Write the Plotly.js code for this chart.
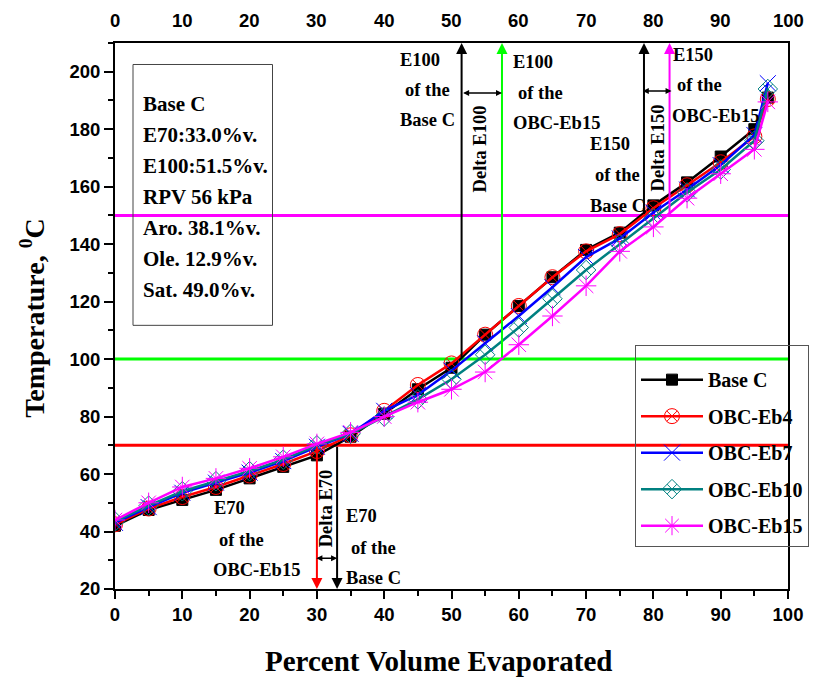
<!DOCTYPE html>
<html>
<head>
<meta charset="utf-8">
<script src="https://cdn.plot.ly/plotly-3.0.1.min.js"></script>
<style>html,body{margin:0;padding:0;background:#fff;}#chart{width:822px;height:677px;}</style>
</head>
<body>
<div id="chart"></div>
<script>
// ---- data ----
const volume = [0,5,10,15,20,25,30,35,40,45,50,55,60,65,70,75,80,85,90,95,97];
const baseC  = [42,47.5,51,54.5,58.5,62.5,66.5,73,81,89.5,97,108.5,118.5,128.5,138,144,153.5,161.5,170.5,180,191];
const eb4    = [42.5,48,52,55.5,59.5,63.5,68,73.5,82,91,98.5,108.5,118.5,128.5,137.5,143.5,152.5,160.5,168.5,177.5,190.5];
const eb7    = [43,48.5,53.5,57,60.5,64.5,69.5,74,82,87.5,96,105.5,115,125,135.5,142,151,159,167.5,178,196];
const eb10   = [43.5,49,54,57.5,61,65,70,74,80,86,93,101.5,111,121,131,140,149,158,166,176,194];
const eb15   = [44,50,55.5,58.5,62,66,70.5,74.5,80,85,89.5,95.5,105,115,125.5,137.5,146,156,164.5,173,189.5];
const seriesNames = ["Base C","OBC-Eb4","OBC-Eb7","OBC-Eb10","OBC-Eb15"];
const seriesData = [baseC, eb4, eb7, eb10, eb15];
const seriesColors = ["#000000","#ff0000","#0000ff","#008080","#ff00ff"];
const seriesSymbols = ["square","circle-x-open","x-thin-open","diamond-x-open","asterisk-open"];
const seriesSizes = [11,15,16,15,17];

const xTicks = [0,10,20,30,40,50,60,70,80,90,100];
const yTicks = [20,40,60,80,100,120,140,160,180,200];

// reference temperatures and evaporated points
const refTemps = [70,100,150];
const refColors = ["#ff0000","#00ff00","#ff00ff"];
const eBase = [33.0,51.5,78.6];     // E70, E100, E150 of Base C
const eEb15 = [30.0,57.5,82.4];     // E70, E100, E150 of OBC-Eb15

const infoLines = ["Base C","E70:33.0%v.","E100:51.5%v.","RPV 56 kPa","Aro. 38.1%v.","Ole. 12.9%v.","Sat. 49.0%v."];

// ---- layout helpers (pixel -> data) ----
const L=115, R=788, T=43, B=589.3;
const X0=0, X1=100, Y0=20, Y1=210;
const dx = px => X0 + (px-L)/(R-L)*(X1-X0);
const dy = py => Y0 + (B-py)/(B-T)*(Y1-Y0);

const serif = "Liberation Serif, Times New Roman, serif";
const sans = "Liberation Sans, Arial, sans-serif";

const traces = seriesNames.map((n,i)=>({
  x: volume, y: seriesData[i], name: n, type:'scatter', mode:'lines+markers',
  legendgroup: 'g'+i,
  line:{color:seriesColors[i], width:2.5},
  marker:{symbol:seriesSymbols[i], size:seriesSizes[i], color:seriesColors[i], line:{color:seriesColors[i], width:1}}
}));

const shapes = [];
refTemps.forEach((t,i)=>{
  shapes.push({type:'line', xref:'x', yref:'y', x0:0, x1:dx(790), y0:t, y1:t, line:{color:refColors[i], width:3}, layer:'below'});
});
// info box
shapes.push({type:'rect', xref:'x', yref:'y', x0:dx(133), x1:dx(272.5), y0:dy(64.5), y1:dy(325.5), line:{color:'#444', width:1}, fillcolor:'rgba(0,0,0,0)'});

const annotations = [];
const txt = (text, px, py, opts={}) => annotations.push(Object.assign({
  text, x:dx(px), y:dy(py), xref:'x', yref:'y', showarrow:false, xanchor:'left', yanchor:'middle',
  font:{family:serif, size:18.5, color:'#000', weight:'bold'}
}, opts));

infoLines.forEach((s,i)=> txt(s, 141, 104 + i*31.1, {font:{family:serif, size:21, color:'#000', weight:'bold'}}));

// top tick labels
xTicks.forEach(v => annotations.push({text:String(v), x:v, y:1, xref:'x', yref:'paper', showarrow:false,
  xanchor:'center', yanchor:'middle', yshift:23, font:{family:sans, size:18.5, color:'#000', weight:'bold'}}));

// vertical arrows
const arrow = (x, y, ax, ay, color, side) => annotations.push({
  x, y, ax, ay, xref:'x', yref:'y', axref:'x', ayref:'y', text:'', showarrow:true,
  arrowhead:2, arrowsize:1.1, arrowwidth:2, arrowcolor:color, standoff:0, startstandoff:0, arrowside: side||'end'
});
// E70 down arrows
arrow(eEb15[0], 20, eEb15[0], refTemps[0], '#ff0000');
arrow(eBase[0], 20, eBase[0], refTemps[0], '#000000');
// E100 up arrows
arrow(eBase[1], 210, eBase[1], refTemps[1], '#000000');
arrow(eEb15[1], 210, eEb15[1], refTemps[1], '#00ff00');
// E150 up arrows
arrow(eBase[2], 210, eBase[2], refTemps[2], '#000000');
arrow(eEb15[2], 210, eEb15[2], refTemps[2], '#ff00ff');

// delta double arrows
const dbl = (xa, xb, yv) => annotations.push({
  x: xb, y: yv, ax: xa, ay: yv, xref:'x', yref:'y', axref:'x', ayref:'y', text:'', showarrow:true,
  arrowhead:2, startarrowhead:2, arrowsize:0.8, startarrowsize:0.8, arrowwidth:1.5, arrowcolor:'#000', arrowside:'end+start', standoff:0, startstandoff:0
});
dbl(eEb15[0]-0.3, eBase[0], dy(558.5));
dbl(eBase[1], eEb15[1], dy(93));
dbl(eBase[2]-0.4, eEb15[2]+0.3, dy(91));

// rotated delta labels
const rot = (s, px, py) => annotations.push({
  text:s, x:dx(px), y:dy(py), xref:'x', yref:'y', showarrow:false, textangle:-90,
  xanchor:'center', yanchor:'middle', font:{family:serif, size:18.5, color:'#000', weight:'bold'}
});
rot("Delta E70", 325.5, 509);
rot("Delta E100", 479.5, 149);
rot("Delta E150", 657.5, 148);

// text blocks
txt("E70", 212, 508); txt("of the", 217, 540); txt("OBC-Eb15", 211, 570);
txt("E70", 344, 516); txt("of the", 349, 548); txt("Base C", 344, 578);
txt("E100", 398, 60); txt("of the", 403, 90); txt("Base C", 398, 120.5);
txt("E100", 511, 62); txt("of the", 515.5, 93); txt("OBC-Eb15", 511, 123);
txt("E150", 588, 144); txt("of the", 592.5, 175); txt("Base C", 588, 206);
txt("E150", 670.5, 55); txt("of the", 675, 85); txt("OBC-Eb15", 670, 116);

// axis titles
annotations.push({text:"Percent Volume Evaporated", xref:'paper', yref:'paper', x:(438-L)/(R-L), y:(B-661)/(B-T),
  showarrow:false, xanchor:'center', yanchor:'middle', font:{family:serif, size:29, color:'#000', weight:'bold'}});
annotations.push({text:"Temperature, <sup>0</sup>C", xref:'paper', yref:'paper', x:(33-L)/(R-L), y:(B-318)/(B-T),
  showarrow:false, textangle:-90, xanchor:'center', yanchor:'middle', font:{family:serif, size:28, color:'#000', weight:'bold'}});

const layout = {
  width:822, height:677,
  margin:{l:L, r:822-R, t:T, b:677-B},
  paper_bgcolor:'#fff', plot_bgcolor:'#fff',
  showlegend:true,
  legend:{x:(635-L)/(R-L), y:(B-345)/(B-T), xanchor:'left', yanchor:'top',
    bgcolor:'rgba(255,255,255,0)', bordercolor:'#555', borderwidth:1,
    font:{family:serif, size:20, color:'#000', weight:'bold'},
    title:{text:'&nbsp;', font:{family:serif, size:11}},
    tracegroupgap:7.5, itemwidth:62},
  xaxis:{range:[X0,X1], tickvals:xTicks, ticktext:xTicks.map(String), ticks:'outside', ticklen:8, tickwidth:2, tickcolor:'#000',
    minor:{dtick:5, ticks:'outside', ticklen:5, tickwidth:2, tickcolor:'#000'},
    showline:true, linewidth:2, linecolor:'#000', mirror:true, showgrid:false, zeroline:false,
    tickfont:{family:sans, size:18.5, color:'#000', weight:'bold'}},
  yaxis:{range:[Y0,Y1], tickvals:yTicks, ticktext:yTicks.map(String), ticks:'outside', ticklen:9, tickwidth:2, tickcolor:'#000',
    minor:{dtick:10, ticks:'outside', ticklen:5, tickwidth:2, tickcolor:'#000'},
    showline:true, linewidth:2, linecolor:'#000', mirror:true, showgrid:false, zeroline:false,
    tickfont:{family:sans, size:18.5, color:'#000', weight:'bold'}},
  shapes, annotations
};

Plotly.newPlot('chart', traces, layout, {displayModeBar:false, staticPlot:true});
</script>
</body>
</html>
